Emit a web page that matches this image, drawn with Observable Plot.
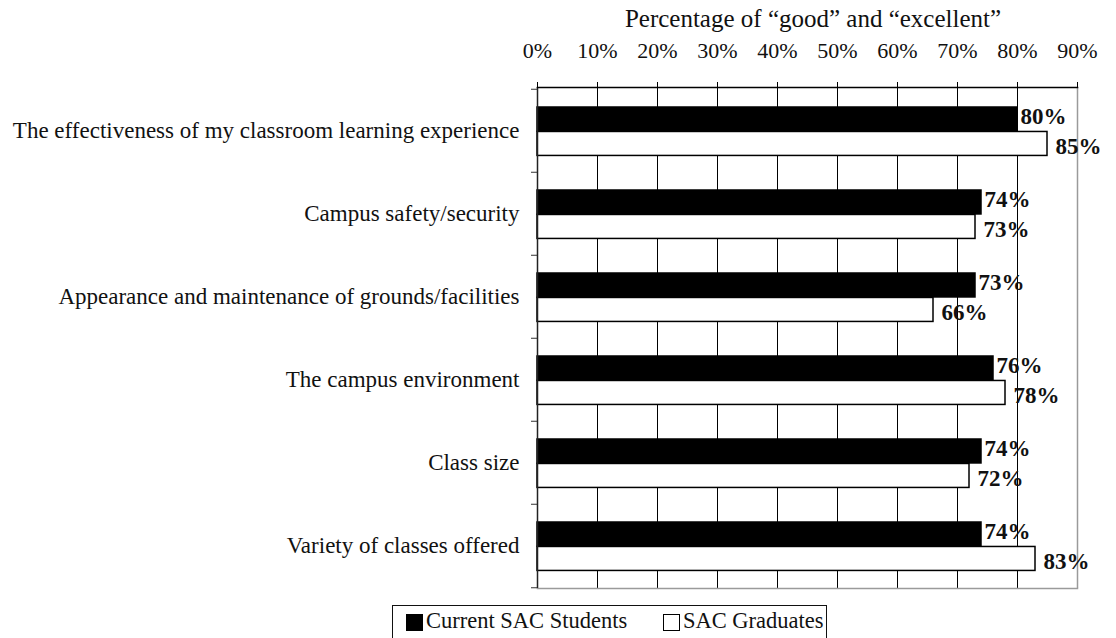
<!DOCTYPE html>
<html>
<head>
<meta charset="utf-8">
<script src="https://cdn.jsdelivr.net/npm/d3@7"></script>
<script src="https://cdn.jsdelivr.net/npm/@observablehq/plot@0.6"></script>
<style>
  body { margin: 0; background: #fff; font-family: "Liberation Serif", serif; overflow: hidden; }
  #title { height: 30px; width: 1116px; box-sizing: border-box; padding-top: 6px; padding-left: 541px; padding-right: 31px; text-align: center; font-size: 25px; line-height: 25px; color: #111; white-space: nowrap; }
  #legend { position: absolute; left: 392px; top: 605px; width: 435px; height: 50px; box-sizing: border-box; border: 1px solid #111; font-size: 22.5px; line-height: 22px; color: #111; padding-top: 4px; white-space: nowrap; }
  .sw { display: inline-block; width: 17px; height: 17px; box-sizing: border-box; border: 1.5px solid #000; margin-right: 3px; vertical-align: -3px; }
  .item { display: inline-block; }
</style>
</head>
<body>
<div id="title">Percentage of “good” and “excellent”</div>
<div id="chart"></div>
<div id="legend">
  <span class="item" style="margin-left:13px"><span class="sw" style="background:#000"></span>Current SAC Students</span>
  <span class="item" style="margin-left:30px"><span class="sw" style="background:#fff"></span>SAC Graduates</span>
</div>
<script>
const categories = [
  "The effectiveness of my classroom learning experience",
  "Campus safety/security",
  "Appearance and maintenance of grounds/facilities",
  "The campus environment",
  "Class size",
  "Variety of classes offered"
];
const currentStudents = [80, 74, 73, 76, 74, 74];
const graduates = [85, 73, 66, 78, 72, 83];
const xTicks = [0, 10, 20, 30, 40, 50, 60, 70, 80, 90];

const data = categories.map((c, i) => ({category: c, current: currentStudents[i], grad: graduates[i]}));

const H = 568, MT = 57, MB = 10;
const bw = (H - MT - MB) / categories.length;
const barH = bw * 0.293;
const topGap = bw * 0.2156;
const blackTop = topGap, blackBottom = bw - topGap - barH;
const whiteTop = topGap + barH, whiteBottom = bw - topGap - 2 * barH;
const blackCenter = -bw / 2 + topGap + barH / 2;
const whiteCenter = -bw / 2 + topGap + barH * 1.5;

const chart = Plot.plot({
  width: 1116,
  height: H,
  marginTop: MT,
  marginBottom: MB,
  marginLeft: 537,
  marginRight: 39,
  style: {fontFamily: "Liberation Serif, serif", color: "#111", background: "#fff", overflow: "visible"},
  x: {domain: [0, 90]},
  y: {domain: categories, padding: 0},
  marks: [
    Plot.gridX(xTicks.filter(t => t > 0 && t < 90), {stroke: "#000", strokeOpacity: 1, strokeWidth: 1}),
    Plot.barX(data, {y: "category", x: "current", fill: "#000", stroke: "#000", strokeWidth: 1.5, insetTop: blackTop, insetBottom: blackBottom}),
    Plot.barX(data, {y: "category", x: "grad", fill: "#fff", stroke: "#000", strokeWidth: 1.5, insetTop: whiteTop, insetBottom: whiteBottom}),
    Plot.ruleX([90], {stroke: "#9a9a9a", strokeWidth: 1.5}),
    Plot.frame({anchor: "bottom", stroke: "#9a9a9a", strokeWidth: 1.5}),
    Plot.ruleX([0], {stroke: "#222", strokeWidth: 1.5}),
    Plot.frame({anchor: "top", stroke: "#000", strokeWidth: 1.5}),
    Plot.axisX(xTicks, {anchor: "top", tickSize: 6, tickPadding: 24, tickFormat: d => d + "%", fontSize: 22, label: null, stroke: "#000"}),
    Plot.axisY({tickSize: 0, tickPadding: 18, fontSize: 23, label: null}),
    Plot.axisY({tickSize: 6, tickFormat: () => "", dy: -bw / 2, label: null, stroke: "#333"}),
    Plot.axisY([categories[categories.length - 1]], {tickSize: 6, tickFormat: () => "", dy: bw / 2, label: null, stroke: "#333"}),
    Plot.text(data, {y: "category", x: "current", text: d => d.current + "%", textAnchor: "start", dx: 3, dy: blackCenter - 3, fontSize: 23, fontWeight: "bold", fill: "#111"}),
    Plot.text(data, {y: "category", x: "grad", text: d => d.grad + "%", textAnchor: "start", dx: 8, dy: whiteCenter + 3, fontSize: 23, fontWeight: "bold", fill: "#111"})
  ]
});
document.getElementById("chart").appendChild(chart);
</script>
</body>
</html>
